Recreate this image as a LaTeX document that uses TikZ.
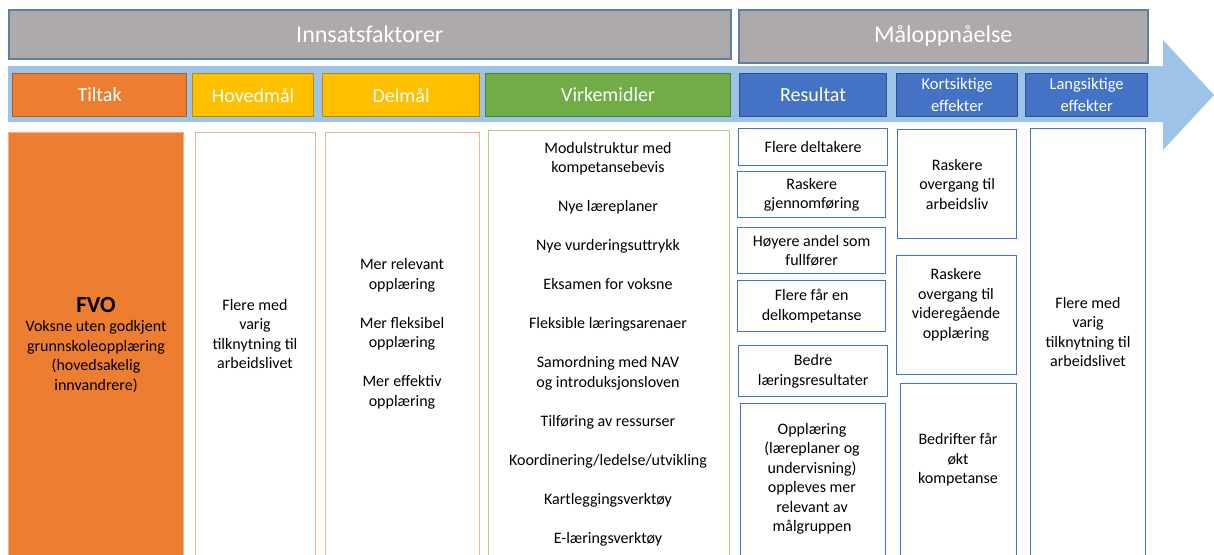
\documentclass[tikz,border=0pt]{standalone}
\usepackage{fontspec}
\setmainfont{Carlito}
\usetikzlibrary{positioning}
\definecolor{graa}{HTML}{AEAAAA}
\definecolor{graakant}{HTML}{5B7FA6}
\definecolor{pilfarge}{HTML}{9DC3E6}
\definecolor{oransje}{HTML}{ED7D31}
\definecolor{oransjekant}{HTML}{AE5A21}
\definecolor{lysoransje}{HTML}{F4B183}
\definecolor{gul}{HTML}{FFC000}
\definecolor{gulkant}{HTML}{BC8C00}
\definecolor{gronn}{HTML}{70AD47}
\definecolor{gronnkant}{HTML}{507E32}
\definecolor{lysgronn}{HTML}{A9D18E}
\definecolor{blaa}{HTML}{4472C4}
\definecolor{blaakant}{HTML}{2F528F}
\tikzset{x=1pt, y=-1pt,
  tittel/.style={rectangle, anchor=north west, fill=graa, draw=graakant, line width=1.5pt, inner sep=0pt, text=white, font=\fontsize{24}{28}\selectfont},
  hode/.style={rectangle, anchor=north west, line width=1.2pt, inner sep=0pt, minimum height=43pt, text=white, align=center, font=\fontsize{20}{24}\selectfont},
  boks/.style={rectangle, anchor=north west, line width=1.3pt, inner sep=0pt, align=center, font=\fontsize{16}{19.5}\selectfont},
  tekst/.style={align=center, inner sep=0pt, font=\fontsize{16}{19.5}\selectfont}}

\begin{document}
\begin{tikzpicture}
    \clip (0,0) rectangle (1214,554);
    % overskrifter
    \node[tittel, minimum width=722pt, minimum height=49pt] (innsats) at (8,9) {Innsatsfaktorer};
    \node[tittel, minimum width=409pt, minimum height=53pt] (maaloppnaaelse) at (738,9) {Måloppnåelse};
    % pilen
    \fill[pilfarge] (8,66) -- (1163,66) -- (1163,40) -- (1214,95) -- (1163,150) -- (1163,122) -- (8,122) -- cycle;
    % kolonneoverskrifter
    \node[hode, fill=oransje, draw=oransjekant, minimum width=174pt] (tiltak) at (12,73) {Tiltak};
    \node[hode, fill=gul, draw=gulkant, minimum width=121pt] (hovedmaal) at (192,73) {Hovedmål};
    \node[hode, fill=gul, draw=gulkant, minimum width=157pt] (delmaal) at (322,73) {Delmål};
    \node[hode, fill=gronn, draw=gronnkant, minimum width=245pt] (virkemidler) at (485,73) {Virkemidler};
    \node[hode, fill=blaa, draw=blaakant, minimum width=147pt] (resultat) at (739,73) {Resultat};
    \node[hode, fill=blaa, draw=blaakant, minimum width=121pt, font=\fontsize{16.5}{22}\selectfont] (kortsiktige) at (896,73) {Kortsiktige\\effekter};
    \node[hode, fill=blaa, draw=blaakant, minimum width=122pt, font=\fontsize{16.5}{22}\selectfont] (langsiktige) at (1025,73) {Langsiktige\\effekter};
    % kolonnene
    \node[boks, fill=oransje, draw=lysoransje, minimum width=175pt, minimum height=440pt] (fvoboks) at (8,132) {};
    \node[tekst] (fvo) at (96,345) {{\bfseries\fontsize{23}{25}\selectfont FVO}\\Voksne uten godkjent\\grunnskoleopplæring\\(hovedsakelig\\innvandrere)};
    \node[boks, draw=lysoransje, minimum width=120pt, minimum height=440pt] (hovedboks) at (195,132) {};
    \node[tekst] (hovedtekst) at (255,334) {Flere med\\varig\\tilknytning til\\arbeidslivet};
    \node[boks, draw=lysoransje, minimum width=154pt, minimum height=440pt] (delboks) at (325,132) {};
    \node[tekst] (deltekst) at (402,334) {Mer relevant\\opplæring\\[19.5pt]Mer fleksibel\\opplæring\\[19.5pt]Mer effektiv\\opplæring};
    \node[boks, draw=lysgronn, minimum width=241pt, minimum height=440pt] (virkeboks) at (488,130) {};
    \node[tekst] (virketekst) at (608,344) {Modulstruktur med\\kompetansebevis\\[19.5pt]Nye læreplaner\\[19.5pt]Nye vurderingsuttrykk\\[19.5pt]Eksamen for voksne\\[19.5pt]Fleksible læringsarenaer\\[19.5pt]Samordning med NAV\\og introduksjonsloven\\[19.5pt]Tilføring av ressurser\\[19.5pt]Koordinering/ledelse/utvikling\\[19.5pt]Kartleggingsverktøy\\[19.5pt]E-læringsverktøy};
    % resultat
    \node[boks, draw=blaa, minimum width=149pt, minimum height=37pt] (deltakere) at (738,128) {Flere deltakere};
    \node[boks, draw=blaa, minimum width=148pt, minimum height=46pt] (gjennomforing) at (737,171) {Raskere\\gjennomføring};
    \node[boks, draw=blaa, minimum width=148pt, minimum height=46pt] (fullforer) at (737,227) {Høyere andel som\\fullfører};
    \node[boks, draw=blaa, minimum width=148pt, minimum height=51pt] (delkompetanse) at (737,280) {Flere får en\\delkompetanse};
    \node[boks, draw=blaa, minimum width=149pt, minimum height=51pt] (laeringsresultater) at (738,345) {Bedre\\læringsresultater};
    \node[boks, draw=blaa, minimum width=145pt, minimum height=170pt] (opplaeringboks) at (740,403) {};
    \node[tekst] (opplaering) at (812,479) {Opplæring\\(læreplaner og\\undervisning)\\oppleves mer\\relevant av\\målgruppen};
    % kortsiktige effekter
    \node[boks, draw=blaa, minimum width=119pt, minimum height=109pt] (arbeidsliv) at (897,129) {Raskere\\overgang til\\arbeidsliv};
    \node[boks, draw=blaa, minimum width=120pt, minimum height=119pt] (videregaaendeboks) at (896,255) {};
    \node[tekst] (videregaaende) at (956,305) {Raskere\\overgang til\\videregående\\opplæring};
    \node[boks, draw=blaa, minimum width=116pt, minimum height=190pt] (bedrifterboks) at (900,383) {};
    \node[tekst] (bedrifter) at (958,460) {Bedrifter får\\økt\\kompetanse};
    % langsiktige effekter
    \node[boks, draw=blaa, minimum width=115pt, minimum height=440pt] (langboks) at (1030,128) {};
    \node[tekst] (langtekst) at (1088,332) {Flere med\\varig\\tilknytning til\\arbeidslivet};
\end{tikzpicture}
\end{document}
